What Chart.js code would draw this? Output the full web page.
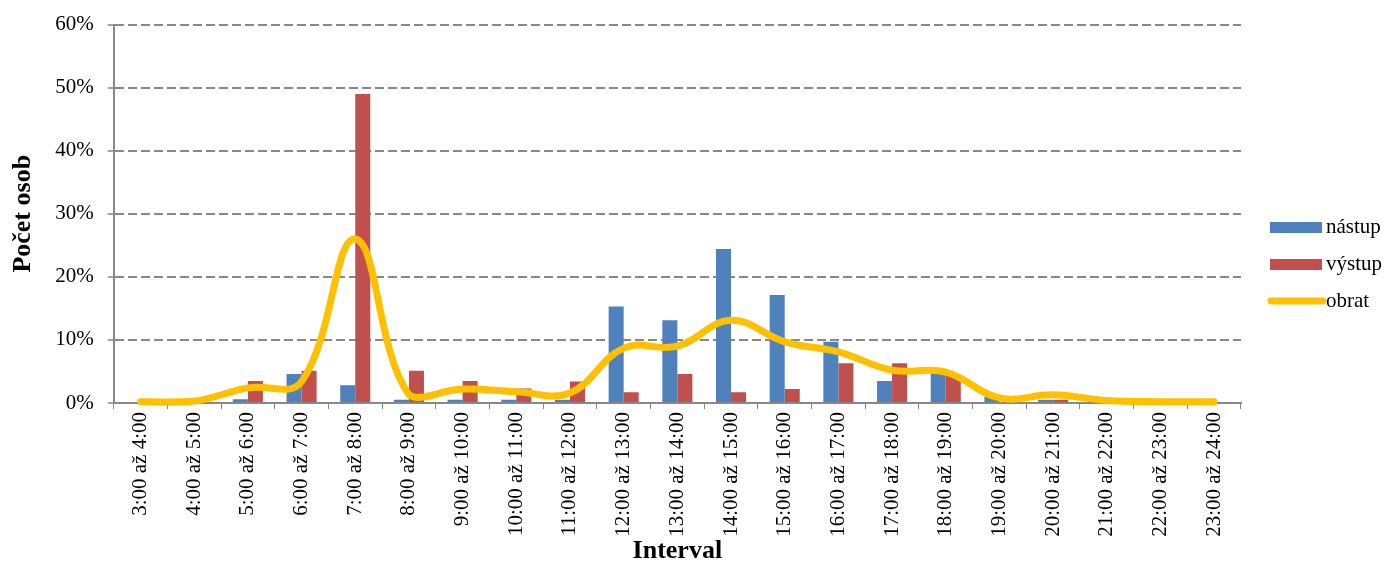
<!DOCTYPE html>
<html>
<head>
<meta charset="utf-8">
<script src="https://cdn.jsdelivr.net/npm/chart.js@4.4.1/dist/chart.umd.min.js"></script>
<style>
    html, body { margin: 0; padding: 0; background: #fff; }
    #wrap { width: 1388px; height: 564px; }
</style>
</head>
<body>
<div id="wrap"><canvas id="chart" width="1388" height="564"></canvas></div>
<script>
// intervaly
const intervals = [
    '3:00 až 4:00', '4:00 až 5:00', '5:00 až 6:00', '6:00 až 7:00', '7:00 až 8:00',
    '8:00 až 9:00', '9:00 až 10:00', '10:00 až 11:00', '11:00 až 12:00', '12:00 až 13:00',
    '13:00 až 14:00', '14:00 až 15:00', '15:00 až 16:00', '16:00 až 17:00', '17:00 až 18:00',
    '18:00 až 19:00', '19:00 až 20:00', '20:00 až 21:00', '21:00 až 22:00', '22:00 až 23:00',
    '23:00 až 24:00'
];

// hodnoty v %
const nastup = [0, 0, 0.6, 4.6, 2.8, 0.5, 0.5, 0.5, 0.5, 15.3, 13.1, 24.4, 17.1, 9.7, 3.5, 4.7, 1.0, 0.5, 0, 0, 0];
const vystup = [0, 0, 3.5, 5.1, 49.0, 5.1, 3.5, 2.3, 3.4, 1.7, 4.6, 1.7, 2.2, 6.3, 6.3, 4.4, 0, 0.5, 0, 0, 0];
const obrat  = [0.2, 0.3, 2.4, 3.4, 26.0, 1.3, 2.2, 1.8, 1.6, 8.7, 9.0, 13.1, 9.7, 8.1, 5.2, 4.9, 0.8, 1.3, 0.4, 0.2, 0.2];

const yTicks = [0, 10, 20, 30, 40, 50, 60];

const serif = '"Liberation Serif", "Times New Roman", serif';

// legenda vpravo (jako v Excelu)
const sideLegend = {
    id: 'sideLegend',
    afterDraw(chart) {
        const ctx = chart.ctx;
        const x0 = chart.chartArea.right + 29;
        let y = 227;
        ctx.save();
        ctx.font = '21px ' + serif;
        ctx.textBaseline = 'middle';
        chart.data.datasets.forEach(ds => {
            if (ds.type === 'line') {
                ctx.strokeStyle = ds.borderColor;
                ctx.lineWidth = 7;
                ctx.lineCap = 'round';
                ctx.beginPath();
                ctx.moveTo(x0 + 1, y);
                ctx.lineTo(x0 + 53, y);
                ctx.stroke();
            } else {
                ctx.fillStyle = ds.backgroundColor;
                ctx.fillRect(x0, y - 5, 52, 11);
            }
            ctx.fillStyle = '#000';
            ctx.fillText(ds.label, x0 + 56, y);
            y += 37;
        });
        ctx.restore();
    }
};

const ctx = document.getElementById('chart').getContext('2d');
new Chart(ctx, {
    type: 'bar',
    data: {
        labels: intervals,
        datasets: [
            {
                label: 'nástup',
                data: nastup,
                backgroundColor: '#4F81BD',
                categoryPercentage: 0.56,
                barPercentage: 1.0,
                order: 1
            },
            {
                label: 'výstup',
                data: vystup,
                backgroundColor: '#C0504D',
                categoryPercentage: 0.56,
                barPercentage: 1.0,
                order: 1
            },
            {
                type: 'line',
                label: 'obrat',
                data: obrat,
                borderColor: '#FFC000',
                backgroundColor: '#FFC000',
                borderWidth: 7,
                borderCapStyle: 'round',
                tension: 0.4,
                pointRadius: 0,
                clip: false,
                order: 0
            }
        ]
    },
    options: {
        responsive: false,
        animation: false,
        layout: {
            padding: { left: 8, right: 147, top: 8, bottom: 0 }
        },
        plugins: {
            legend: { display: false },
            tooltip: { enabled: false }
        },
        scales: {
            x: {
                offset: true,
                grid: {
                    offset: true,
                    drawOnChartArea: false,
                    drawTicks: true,
                    tickLength: 6,
                    color: '#888'
                },
                border: { color: '#888', width: 2 },
                ticks: {
                    color: '#000',
                    font: { family: serif, size: 21 },
                    minRotation: 90,
                    maxRotation: 90,
                    autoSkip: false,
                    padding: 3
                },
                title: {
                    display: true,
                    text: 'Interval',
                    color: '#000',
                    font: { family: serif, size: 26, weight: 'bold' },
                    padding: { top: -4, bottom: -3 }
                }
            },
            y: {
                min: 0,
                max: 60,
                afterBuildTicks: axis => {
                    axis.ticks = yTicks.map(v => ({ value: v }));
                },
                grid: {
                    color: '#888',
                    lineWidth: 2,
                    tickLength: 6,
                    tickWidth: 1.5,
                    tickBorderDash: []
                },
                border: { color: '#888', width: 2, dash: [9, 4] },
                ticks: {
                    color: '#000',
                    font: { family: serif, size: 21, lineHeight: 1 },
                    padding: 14,
                    callback: v => v + '%'
                },
                title: {
                    display: true,
                    text: 'Počet osob',
                    color: '#000',
                    font: { family: serif, size: 26, weight: 'bold' },
                    padding: { top: 0, bottom: 2 }
                }
            }
        }
    },
    plugins: [sideLegend]
});
</script>
</body>
</html>
